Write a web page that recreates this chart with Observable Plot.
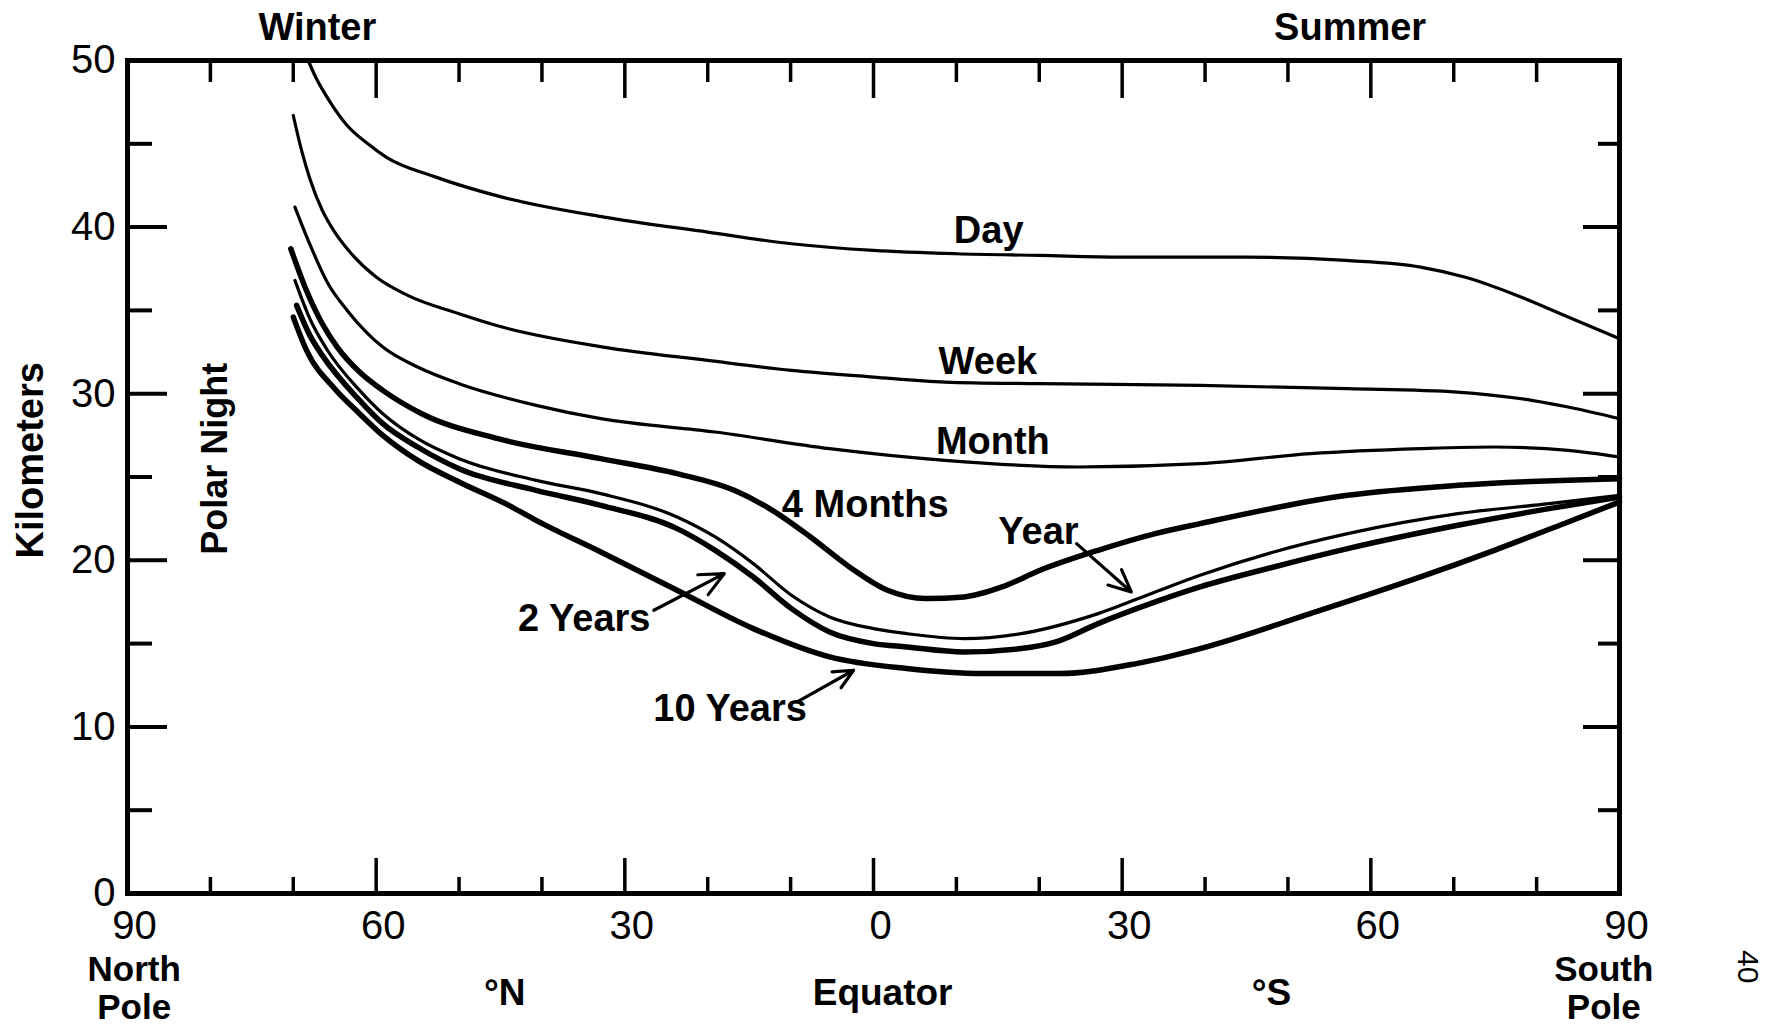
<!DOCTYPE html>
<html>
<head>
<meta charset="utf-8">
<script src="https://cdn.jsdelivr.net/npm/d3@7"></script>
<script src="https://cdn.jsdelivr.net/npm/@observablehq/plot@0.6"></script>
<style>
html, body { margin: 0; padding: 0; background: #fff; }
#chart svg { display: block; }
</style>
</head>
<body>
<div id="chart"></div>
<script>
// Latitude: negative = north (winter), positive = south (summer). Values in km.
const day = [[-68.2,50.0],[-67.2,48.9],[-65.8,47.7],[-63.5,46.1],[-61,45.0],[-58.8,44.2],[-52.8,43.0],[-44.8,41.8],[-32.5,40.6],[-20,39.7],[-9.9,39.0],[0,38.6],[10,38.4],[20,38.3],[30,38.2],[45,38.2],[57,38.0],[66,37.6],[71.3,37.0],[77.1,36.0],[83.8,34.6],[90,33.3]];
const week = [[-70.0,46.7],[-69,44.6],[-68,42.9],[-66.5,41.0],[-65,39.7],[-63.5,38.7],[-60,37.0],[-56.2,35.9],[-50,34.8],[-44.8,34.0],[-32.6,32.8],[-20,32.0],[-9.9,31.4],[0,31.0],[8.6,30.7],[20,30.6],[39.4,30.5],[57.2,30.3],[70.4,30.1],[79.4,29.6],[83.8,29.2],[90,28.5]];
const month = [[-69.8,41.2],[-68.2,39.2],[-65.8,36.6],[-63.5,35.0],[-61.2,33.7],[-59.2,32.8],[-55,31.6],[-50,30.6],[-40.7,29.3],[-32.9,28.5],[-19.1,27.7],[-5.3,26.7],[8.6,26.0],[24.7,25.6],[39.4,25.8],[52.7,26.4],[66,26.7],[74.9,26.8],[83.8,26.6],[90,26.2]];
const fourMonths = [[-70.3,38.7],[-68.5,36.3],[-66.5,34.2],[-64.7,32.8],[-62,31.3],[-59.2,30.2],[-54.5,28.8],[-45.3,27.3],[-32.9,26.1],[-23.7,25.2],[-16.8,24.2],[-12.2,23.0],[-7.6,21.4],[-2.9,19.6],[1.7,18.2],[6.3,17.7],[10.9,17.8],[15.5,18.4],[20.1,19.4],[27.1,20.6],[34,21.6],[39.4,22.2],[57.2,23.9],[70.5,24.5],[90,24.9]];
const year = [[-69.8,36.8],[-68,34.5],[-66,32.7],[-62,30.2],[-59.2,28.8],[-55,27.3],[-50,26.1],[-40.7,24.8],[-32.9,24.0],[-23.7,22.6],[-19.1,21.4],[-14.5,19.8],[-9.9,17.9],[-5.3,16.6],[0,15.9],[4,15.6],[10.9,15.3],[17.8,15.6],[27.1,16.8],[34,18.1],[39.4,19.1],[48.3,20.5],[57.2,21.6],[70.5,22.8],[81.5,23.4],[90,23.9]];
const twoYears = [[-69.6,35.3],[-68,33.5],[-66.5,32.3],[-62,29.6],[-59.2,28.2],[-55,26.8],[-50,25.5],[-40.7,24.2],[-32.9,23.3],[-23.7,21.9],[-19.1,20.6],[-14.5,19.0],[-9.9,17.1],[-5.3,15.7],[0,15.0],[4,14.8],[10.9,14.5],[17.8,14.7],[22,15.1],[27.1,16.2],[34,17.5],[39.4,18.4],[48.3,19.6],[57.2,20.7],[70.5,22.1],[81.5,23.1],[90,23.8]];
const tenYears = [[-70,34.6],[-68.4,32.6],[-65,30.3],[-62,28.8],[-59.2,27.5],[-55,26.0],[-50,24.7],[-44,23.3],[-40.7,22.4],[-32.9,20.5],[-23.7,18.2],[-14.5,15.9],[-5.3,14.2],[4,13.5],[13.2,13.2],[22.4,13.2],[31.7,13.8],[39.4,14.7],[52.7,16.8],[66,19.0],[74.9,20.6],[83.8,22.3],[90,23.5]];

// Curve labels (data coordinates)
const labelText = ["Day", "Week", "Month", "4 Months", "Year", "2 Years", "10 Years"];
const labelLat  = [13.9, 13.8, 14.4, -1.0, 19.9, -34.9, -17.3];
const labelKm   = [39.8, 31.9, 27.1, 23.3, 21.7, 16.5, 11.1];

// Pointer arrows
const arrowFromLat = [24.5, -26.5, -9.2];
const arrowFromKm  = [21.0, 17.0, 11.5];
const arrowToLat   = [31.1, -18.0, -2.4];
const arrowToKm    = [18.1, 19.2, 13.4];

// Axis ticks and labels
const xMinorTicks = [-80,-70,-50,-40,-20,-10,10,20,40,50,70,80];
const xMajorTicks = [-60,-30,0,30,60];
const xLabelTicks = [-90,-60,-30,0,30,60,90];
const yMinorTicks = [5,15,25,35,45];
const yMajorTicks = [10,20,30,40];
const yLabelTicks = [0,10,20,30,40,50];

// Side annotations (data coordinates, some outside the frame)
const seasonText = ["Winter", "Summer"];
const seasonLat = [-67.1, 57.5];
const poleTopText = ["North", "South"];
const poleBottomText = ["Pole", "Pole"];
const poleLat = [-89.2, 88.1];
const bottomText = ["°N", "Equator", "°S"];
const bottomLat = [-44.5, 1.1, 48.0];
const polarText = ["Polar Night"];
const polarLat = [-79.4];
const polarKm = [26.1];
const yTitleText = ["Kilometers"];
const yTitleLat = [-101.7];
const yTitleKm = [26.0];
const pageText = ["40"];
const pageLat = [105.4];
const pageKm = [-4.4];

const thinSeries = [["Day", day], ["Week", week], ["Month", month], ["Year", year]];
const thickSeries = [["4 Months", fourMonths], ["2 Years", twoYears], ["10 Years", tenYears]];
const toRows = (list) => list.flatMap(([name, pts]) => pts.map(([lat, km]) => ({name, lat, km})));
const thinRows = toRows(thinSeries);
const thickRows = toRows(thickSeries);

const labelIdx = labelText.map((_, i) => i);
const arrowIdx = arrowFromLat.map((_, i) => i);

const SANS = "'Liberation Sans', Arial, sans-serif";
const noText = () => "";
const wordStyle = {fontFamily: SANS, fontWeight: "bold", fill: "black"};

const chart = Plot.plot({
  width: 1773,
  height: 1027,
  marginLeft: 127,
  marginRight: 154,
  marginTop: 60,
  marginBottom: 134,
  x: {domain: [-90, 90]},
  y: {domain: [0, 50]},
  style: {fontFamily: SANS, fontSize: "40px", color: "black", background: "white", overflow: "visible"},
  marks: [
    // ticks (inward)
    Plot.axisX(xMinorTicks, {anchor: "bottom", tickSize: -16, strokeWidth: 3.5, tickFormat: noText, label: null}),
    Plot.axisX(xMajorTicks, {anchor: "bottom", tickSize: -35, strokeWidth: 3.5, tickFormat: noText, label: null}),
    Plot.axisX(xMinorTicks, {anchor: "top", tickSize: -21, strokeWidth: 3.5, tickFormat: noText, label: null}),
    Plot.axisX(xMajorTicks, {anchor: "top", tickSize: -37, strokeWidth: 3.5, tickFormat: noText, label: null}),
    Plot.axisY(yMinorTicks, {anchor: "left", tickSize: -25, strokeWidth: 4, tickFormat: noText, label: null}),
    Plot.axisY(yMajorTicks, {anchor: "left", tickSize: -40, strokeWidth: 4, tickFormat: noText, label: null}),
    Plot.axisY(yMinorTicks, {anchor: "right", tickSize: -22, strokeWidth: 4, tickFormat: noText, label: null}),
    Plot.axisY(yMajorTicks, {anchor: "right", tickSize: -37, strokeWidth: 4, tickFormat: noText, label: null}),
    // tick labels
    Plot.axisX(xLabelTicks, {anchor: "bottom", tickSize: 0, tickPadding: 17, dx: 7, tickFormat: d => Math.abs(d), fontSize: 40, label: null}),
    Plot.axisY(yLabelTicks, {anchor: "left", tickSize: 0, tickPadding: 12, fontSize: 40, label: null}),
    Plot.frame({strokeWidth: 5, stroke: "black"}),
    // curves
    Plot.line(thinRows, {x: "lat", y: "km", z: "name", stroke: "black", strokeWidth: 3.2, curve: "monotone-x"}),
    Plot.line(thickRows, {x: "lat", y: "km", z: "name", stroke: "black", strokeWidth: 5.5, curve: "monotone-x"}),
    // curve labels (narrowed after render)
    Plot.text(labelIdx, {x: i => labelLat[i], y: i => labelKm[i], text: i => labelText[i],
      ...wordStyle, fontSize: 38, ariaLabel: "curve-labels"}),
    Plot.arrow(arrowIdx, {x1: i => arrowFromLat[i], y1: i => arrowFromKm[i], x2: i => arrowToLat[i], y2: i => arrowToKm[i],
      stroke: "black", strokeWidth: 3.2, headLength: 18, headAngle: 50}),
    // Polar Night
    Plot.text(polarText, {x: (d, i) => polarLat[i], y: (d, i) => polarKm[i], text: d => d, rotate: -90,
      ...wordStyle, fontSize: 36}),
    // Kilometers
    Plot.text(yTitleText, {x: (d, i) => yTitleLat[i], y: (d, i) => yTitleKm[i], text: d => d, rotate: -90,
      ...wordStyle, fontSize: 38}),
    // Winter / Summer
    Plot.text(seasonText, {x: (d, i) => seasonLat[i], frameAnchor: "top", lineAnchor: "middle", dy: -33, text: d => d,
      ...wordStyle, fontSize: 38}),
    // bottom words
    Plot.text(poleTopText, {x: (d, i) => poleLat[i], frameAnchor: "bottom", lineAnchor: "middle", dy: 76, text: d => d,
      ...wordStyle, fontSize: 35}),
    Plot.text(poleBottomText, {x: (d, i) => poleLat[i], frameAnchor: "bottom", lineAnchor: "middle", dy: 114, text: d => d,
      ...wordStyle, fontSize: 35}),
    Plot.text(bottomText, {x: (d, i) => bottomLat[i], frameAnchor: "bottom", lineAnchor: "middle", dy: 100, text: d => d,
      ...wordStyle, fontSize: 37}),
    // page number
    Plot.text(pageText, {x: (d, i) => pageLat[i], y: (d, i) => pageKm[i], text: d => d, rotate: 90,
      fontFamily: SANS, fontSize: 30, fill: "black"})
  ]
});
// the original lettering is condensed: narrow the curve labels horizontally
chart.querySelectorAll('g[aria-label="curve-labels"] text').forEach(t => {
  const tr = t.getAttribute("transform") || "";
  t.setAttribute("transform", tr + " scale(0.82,1)");
});
document.getElementById("chart").appendChild(chart);
</script>
</body>
</html>
